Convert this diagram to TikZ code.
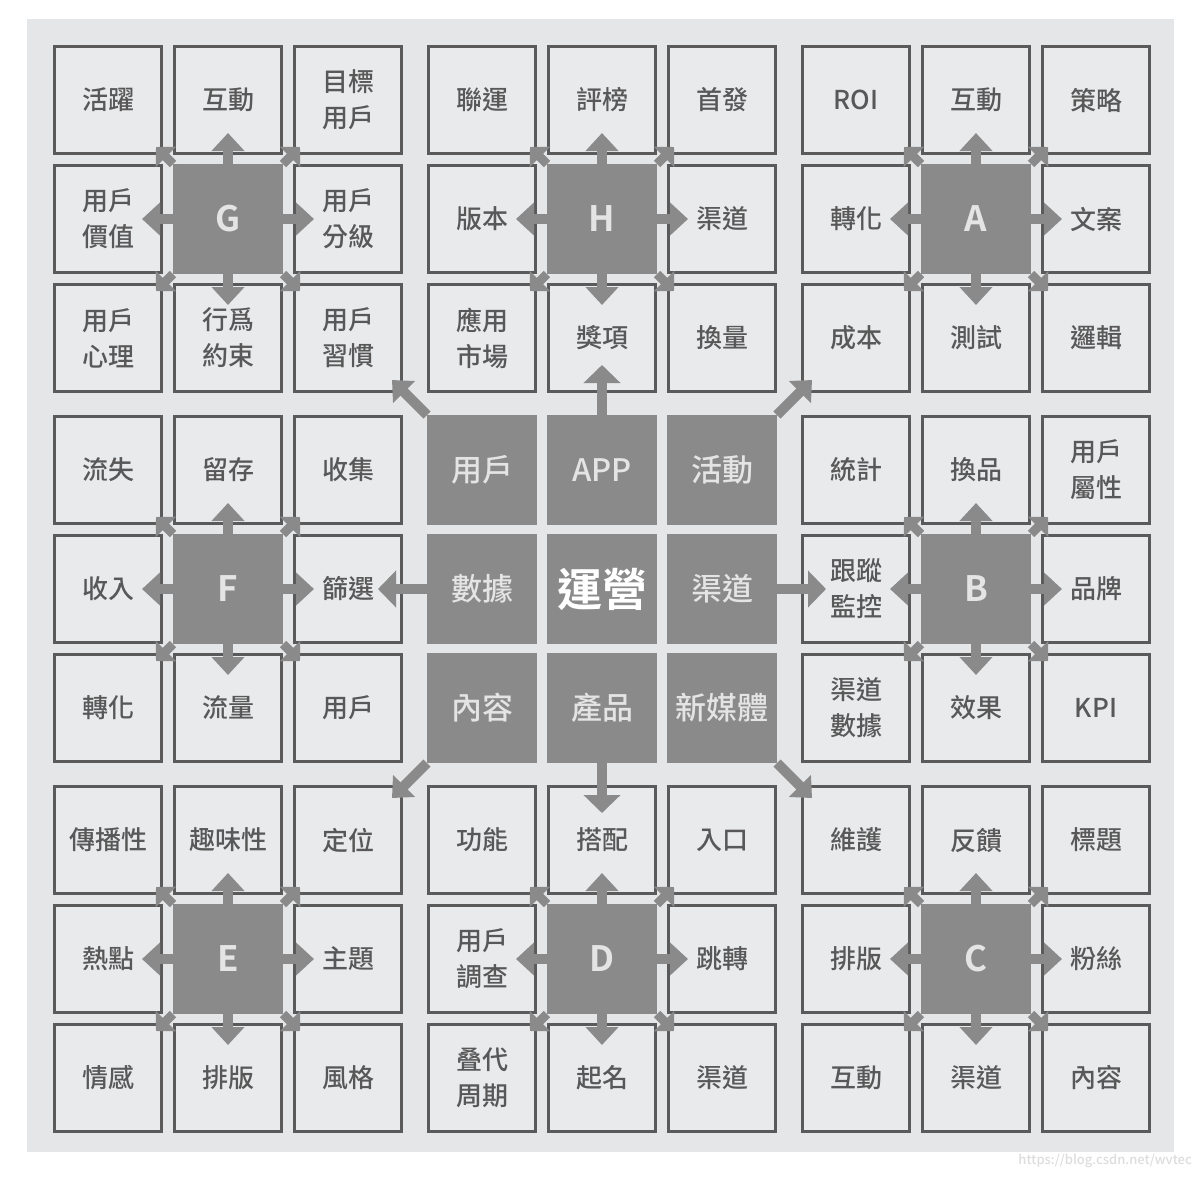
\documentclass[tikz,border=0pt]{standalone}
\usepackage{fontspec}
\setmainfont{Noto Sans CJK TC}[UprightFont={* Medium}, BoldFont={* Bold}]
\usetikzlibrary{arrows.meta}
\definecolor{bgc}{HTML}{E4E6E8}
\definecolor{cellc}{HTML}{E9EAEC}
\definecolor{linec}{HTML}{5A5A5A}
\definecolor{txtc}{HTML}{585858}
\definecolor{darkc}{HTML}{8A8A8A}
\definecolor{lightc}{HTML}{E4E4E4}
\definecolor{wmc}{HTML}{DDDDDD}
\newcommand\mkcell[4]{%
  \pgfmathsetmacro\cellX{53+374*int(#2/3)+120*mod(#2,3)+55}%
  \pgfmathsetmacro\cellY{45+370*int(#3/3)+119*mod(#3,3)+55}%
  \node[#1] (n#2#3) at (\cellX,\cellY) {#4};}
\newcommand\grparrows[1]{%
  \draw[oarr] (#1.north) -- ++(0,-31);
  \draw[oarr] (#1.south) -- ++(0,31);
  \draw[oarr] (#1.west) -- ++(-31,0);
  \draw[oarr] (#1.east) -- ++(31,0);
  \draw[darr] (#1.north west) -- ++(-17,-17);
  \draw[darr] (#1.north east) -- ++(17,-17);
  \draw[darr] (#1.south west) -- ++(-17,17);
  \draw[darr] (#1.south east) -- ++(17,17);}
\begin{document}
\begin{tikzpicture}[x=1pt,y=-1pt,
  cell/.style={draw=linec, line width=3pt, fill=cellc, minimum size=107pt, inner sep=0pt,
    align=center, text=txtc, font=\fontsize{26}{36}\selectfont},
  hub/.style={draw=darkc, line width=3pt, fill=darkc, minimum size=107pt, inner sep=0pt,
    text=lightc, font=\bfseries\fontsize{35}{35}\selectfont},
  core/.style={draw=darkc, line width=3pt, fill=darkc, minimum size=107pt, inner sep=0pt,
    text=lightc, font=\fontsize{31}{36}\selectfont},
  mid/.style={core, text=white, font=\bfseries\fontsize{45}{45}\selectfont},
  oarr/.style={draw=darkc, line width=10pt, -{Triangle[width=32pt,length=18pt]}},
  darr/.style={draw=darkc, line width=9pt, -{Triangle[width=28pt,length=14pt]}},
  carr/.style={draw=darkc, line width=10pt, -{Triangle[width=36pt,length=18pt]}},
  cdarr/.style={draw=darkc, line width=10pt, -{Triangle[width=30pt,length=17pt]}}
]
\useasboundingbox (0,0) rectangle (1200,1176);
\fill[white] (0,0) rectangle (1200,1176);
\fill[bgc] (27,19) rectangle (1174,1152);
% row 0
\mkcell{cell}{0}{0}{活躍}
\mkcell{cell}{1}{0}{互動}
\mkcell{cell}{2}{0}{目標\\用戶}
\mkcell{cell}{3}{0}{聯運}
\mkcell{cell}{4}{0}{評榜}
\mkcell{cell}{5}{0}{首發}
\mkcell{cell}{6}{0}{ROI}
\mkcell{cell}{7}{0}{互動}
\mkcell{cell}{8}{0}{策略}
% row 1
\mkcell{cell}{0}{1}{用戶\\價值}
\mkcell{cell}{2}{1}{用戶\\分級}
\mkcell{cell}{3}{1}{版本}
\mkcell{cell}{5}{1}{渠道}
\mkcell{cell}{6}{1}{轉化}
\mkcell{cell}{8}{1}{文案}
% row 2
\mkcell{cell}{0}{2}{用戶\\心理}
\mkcell{cell}{1}{2}{行爲\\約束}
\mkcell{cell}{2}{2}{用戶\\習慣}
\mkcell{cell}{3}{2}{應用\\市場}
\mkcell{cell}{4}{2}{獎項}
\mkcell{cell}{5}{2}{換量}
\mkcell{cell}{6}{2}{成本}
\mkcell{cell}{7}{2}{測試}
\mkcell{cell}{8}{2}{邏輯}
% row 3
\mkcell{cell}{0}{3}{流失}
\mkcell{cell}{1}{3}{留存}
\mkcell{cell}{2}{3}{收集}
\mkcell{cell}{6}{3}{統計}
\mkcell{cell}{7}{3}{換品}
\mkcell{cell}{8}{3}{用戶\\屬性}
% row 4
\mkcell{cell}{0}{4}{收入}
\mkcell{cell}{2}{4}{篩選}
\mkcell{cell}{6}{4}{跟蹤\\監控}
\mkcell{cell}{8}{4}{品牌}
% row 5
\mkcell{cell}{0}{5}{轉化}
\mkcell{cell}{1}{5}{流量}
\mkcell{cell}{2}{5}{用戶}
\mkcell{cell}{6}{5}{渠道\\數據}
\mkcell{cell}{7}{5}{效果}
\mkcell{cell}{8}{5}{KPI}
% row 6
\mkcell{cell}{0}{6}{傳播性}
\mkcell{cell}{1}{6}{趣味性}
\mkcell{cell}{2}{6}{定位}
\mkcell{cell}{3}{6}{功能}
\mkcell{cell}{4}{6}{搭配}
\mkcell{cell}{5}{6}{入口}
\mkcell{cell}{6}{6}{維護}
\mkcell{cell}{7}{6}{反饋}
\mkcell{cell}{8}{6}{標題}
% row 7
\mkcell{cell}{0}{7}{熱點}
\mkcell{cell}{2}{7}{主題}
\mkcell{cell}{3}{7}{用戶\\調查}
\mkcell{cell}{5}{7}{跳轉}
\mkcell{cell}{6}{7}{排版}
\mkcell{cell}{8}{7}{粉絲}
% row 8
\mkcell{cell}{0}{8}{情感}
\mkcell{cell}{1}{8}{排版}
\mkcell{cell}{2}{8}{風格}
\mkcell{cell}{3}{8}{叠代\\周期}
\mkcell{cell}{4}{8}{起名}
\mkcell{cell}{5}{8}{渠道}
\mkcell{cell}{6}{8}{互動}
\mkcell{cell}{7}{8}{渠道}
\mkcell{cell}{8}{8}{內容}
% hubs of outer groups
\mkcell{hub}{1}{1}{G}
\mkcell{hub}{4}{1}{H}
\mkcell{hub}{7}{1}{A}
\mkcell{hub}{1}{4}{F}
\mkcell{hub}{7}{4}{B}
\mkcell{hub}{1}{7}{E}
\mkcell{hub}{4}{7}{D}
\mkcell{hub}{7}{7}{C}
% central group
\mkcell{core}{3}{3}{用戶}
\mkcell{core}{4}{3}{APP}
\mkcell{core}{5}{3}{活動}
\mkcell{core}{3}{4}{數據}
\mkcell{mid}{4}{4}{運營}
\mkcell{core}{5}{4}{渠道}
\mkcell{core}{3}{5}{內容}
\mkcell{core}{4}{5}{產品}
\mkcell{core}{5}{5}{新媒體}
% arrows of the outer groups
\grparrows{n11}
\grparrows{n41}
\grparrows{n71}
\grparrows{n14}
\grparrows{n74}
\grparrows{n17}
\grparrows{n47}
\grparrows{n77}
% arrows of the central group
\draw[carr] (n43.north) -- ++(0,-50);
\draw[carr] (n45.south) -- ++(0,50);
\draw[carr] (n34.west) -- ++(-49,0);
\draw[carr] (n54.east) -- ++(49,0);
\draw[cdarr] (n33.north west) -- ++(-35,-35);
\draw[cdarr] (n53.north east) -- ++(35,-35);
\draw[cdarr] (n35.south west) -- ++(-35,35);
\draw[cdarr] (n55.south east) -- ++(35,35);
% watermark
\node[anchor=east, text=wmc, inner sep=0pt, font=\fontsize{13}{13}\selectfont] (wm) at (1192,1161) {https://blog.csdn.net/wvtec};
\end{tikzpicture}
\end{document}
